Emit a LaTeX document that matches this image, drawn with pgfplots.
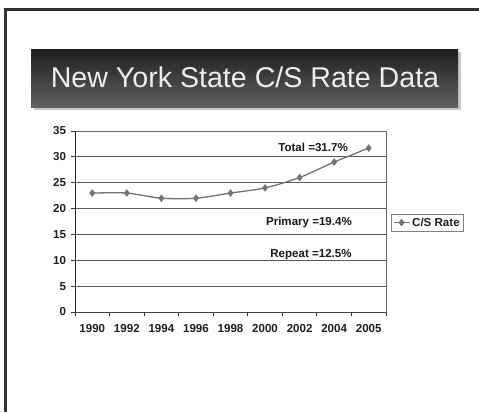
\documentclass[border=0pt]{standalone}
\usepackage{pgfplots}
\pgfplotsset{compat=1.18}
\usepackage{pgfplotstable}
\usepackage{fontspec}
\setmainfont{Liberation Sans}

% C/S rate by year (categories plotted at 0..8)
\pgfplotstableread{
idx rate
0 23
1 23
2 22
3 22
4 23
5 24
6 26
7 29
8 31.7
}\csrate

\begin{document}
\begin{tikzpicture}[x=1bp,y=1bp]
\path[use as bounding box] (0,0) rectangle (479,412);
% slide frame
\draw[line width=2.6bp, color=black!80] (5.5,0) -- (5.5,402.7) -- (479,402.7);
% title banner with drop shadow
\fill[black!22] (34,302) rectangle (461,360);
\shade[top color=black!88, bottom color=black!62] (31,305) rectangle (458,363);
\node[text=white!93!black, font=\fontsize{28.7}{32}\selectfont, anchor=base, inner sep=0pt]
  at (245,324.7) {New York State C/S Rate Data};

\begin{axis}[
  at={(75bp,100bp)}, anchor=south west,
  scale only axis, width=311bp, height=181bp,
  xmin=-0.5, xmax=8.5, ymin=0, ymax=35,
  xtick={0,...,8},
  xticklabels={1990,1992,1994,1996,1998,2000,2002,2004,2005},
  major x tick style={draw=none},
  minor xtick={-0.5,0.5,...,8.5},
  ytick={0,5,...,35},
  tick pos=left,
  ymajorgrids,
  grid style={black!65, line width=1bp},
  axis line style={black!60, line width=1bp},
  tick style={black!80, line width=1bp},
  tick align=outside,
  major tick length=4bp, minor tick length=4bp,
  ticklabel style={font=\fontsize{11.6}{12}\bfseries\selectfont, text=black!88},
  xticklabel style={yshift=-5bp},
  yticklabel style={xshift=-1.5bp},
  /pgf/number format/assume math mode=true,
  legend style={at={(1.016,0.494)}, anchor=west, draw=black!50, line width=0.8bp,
    font=\fontsize{11.6}{13}\bfseries\selectfont, text=black!88,
    inner sep=1.5bp},
  legend image code/.code={
    \draw[#1, mark repeat=2, mark phase=2] plot coordinates {(0bp,0bp) (8bp,0bp) (16bp,0bp)};
  },
]
\addplot[color=black!55, line width=1.3bp, smooth, tension=0.45,
  mark=diamond*, mark size=2.8bp, mark options={fill=black!55, draw=black!55}]
  table[x=idx, y=rate] {\csrate};
\addlegendentry{C/S Rate}

% plot-area border: darker left and bottom, grey right
\draw[black!60, line width=1bp] (rel axis cs:1,0) -- (rel axis cs:1,1);
\draw[black!85, line width=1bp] (rel axis cs:0,0) -- (rel axis cs:0,1);
\draw[black!75, line width=1bp] (rel axis cs:0,0) -- (rel axis cs:1,0);

\node[font=\fontsize{11.6}{12}\bfseries\selectfont, text=black!90]
  at (axis cs:6.39,31.9) {Total =31.7\%};
\node[font=\fontsize{11.6}{12}\bfseries\selectfont, text=black!90]
  at (axis cs:6.27,17.4) {Primary =19.4\%};
\node[font=\fontsize{11.6}{12}\bfseries\selectfont, text=black!90]
  at (axis cs:6.33,11.0) {Repeat =12.5\%};
\end{axis}
\end{tikzpicture}
\end{document}
